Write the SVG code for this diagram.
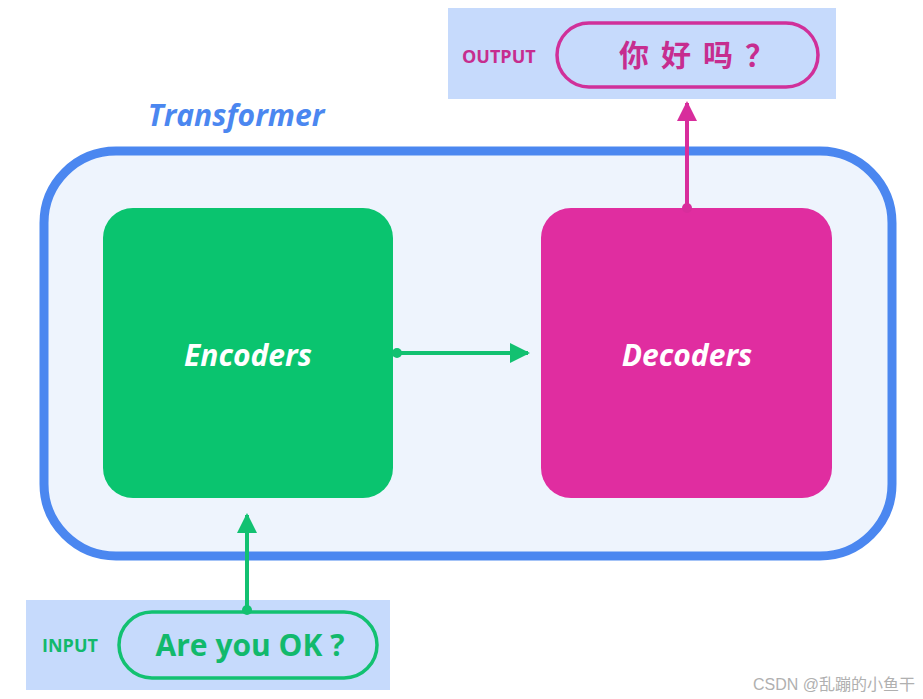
<svg xmlns="http://www.w3.org/2000/svg" width="923" height="699" viewBox="0 0 923 699">
<style>
.lbl{font-family:"Open Sans","Noto Sans",sans-serif;font-weight:700}
.big{font-family:"Open Sans","Noto Sans CJK SC",sans-serif;font-weight:700;font-size:30px;text-anchor:middle}
.box{font-family:"Open Sans","Noto Sans",sans-serif;font-weight:700;font-style:italic;font-size:30px;fill:#fff;text-anchor:middle}
</style>
<defs>
<marker id="ag" viewBox="0 0 10 10" refX="9" refY="5" markerWidth="5" markerHeight="5" orient="auto"><path d="M0,0L10,5L0,10z" fill="#12c171"/></marker>
<marker id="am" viewBox="0 0 10 10" refX="9" refY="5" markerWidth="5" markerHeight="5" orient="auto"><path d="M0,0L10,5L0,10z" fill="#d82d9c"/></marker>
</defs>
<rect width="923" height="699" fill="#fff"/>
<g id="transformer">
<rect x="44" y="151" width="848" height="405" rx="72" fill="#eef4fd" stroke="#4b87f0" stroke-width="9"/>
<text x="236" y="126" font-family="'Open Sans',sans-serif" font-weight="700" font-style="italic" font-size="30" fill="#4b87f0" text-anchor="middle">Transformer</text>
</g>
<g id="output">
<rect x="448" y="8" width="388" height="91" fill="#c6dafc"/>
<text class="lbl" x="462" y="63" font-size="18" fill="#c62d8f">OUTPUT</text>
<rect x="557" y="23" width="261" height="64" rx="32" fill="none" stroke="#d0309a" stroke-width="3.5"/>
<text class="big" x="703" y="66" fill="#c62d8f" letter-spacing="12" font-size="28">你好吗？</text>
</g>
<g id="input">
<rect x="26" y="600" width="364" height="90" fill="#c6dafc"/>
<text class="lbl" x="42" y="652" font-size="18" fill="#12b96c">INPUT</text>
<rect x="119" y="612" width="258" height="66" rx="33" fill="none" stroke="#12c171" stroke-width="3.5"/>
<text class="big" x="250" y="656" fill="#12b96c">Are you OK ?</text>
</g>
<g id="encoders">
<rect x="103" y="208" width="290" height="290" rx="30" fill="#0ac46f"/>
<text class="box" x="248" y="366">Encoders</text>
</g>
<g id="decoders">
<rect x="541" y="208" width="291" height="290" rx="30" fill="#e02da0"/>
<text class="box" x="687" y="366">Decoders</text>
</g>
<g id="connectors" stroke-width="4" fill="none">
<line x1="397" y1="353" x2="528" y2="353" stroke="#12c171" marker-end="url(#ag)"/>
<circle cx="397" cy="353" r="5" fill="#12c171" stroke="none"/>
<line x1="247" y1="610" x2="247" y2="515" stroke="#12c171" marker-end="url(#ag)"/>
<circle cx="247" cy="610" r="5" fill="#12c171" stroke="none"/>
<line x1="687" y1="208" x2="687" y2="103" stroke="#d82d9c" marker-end="url(#am)"/>
<circle cx="687" cy="208" r="5" fill="#d82d9c" stroke="none"/>
</g>
<text x="915" y="690" font-family="'Liberation Sans','Noto Sans CJK SC',sans-serif" font-size="16" fill="#b0b0b0" text-anchor="end">CSDN @乱蹦的小鱼干</text>
</svg>
